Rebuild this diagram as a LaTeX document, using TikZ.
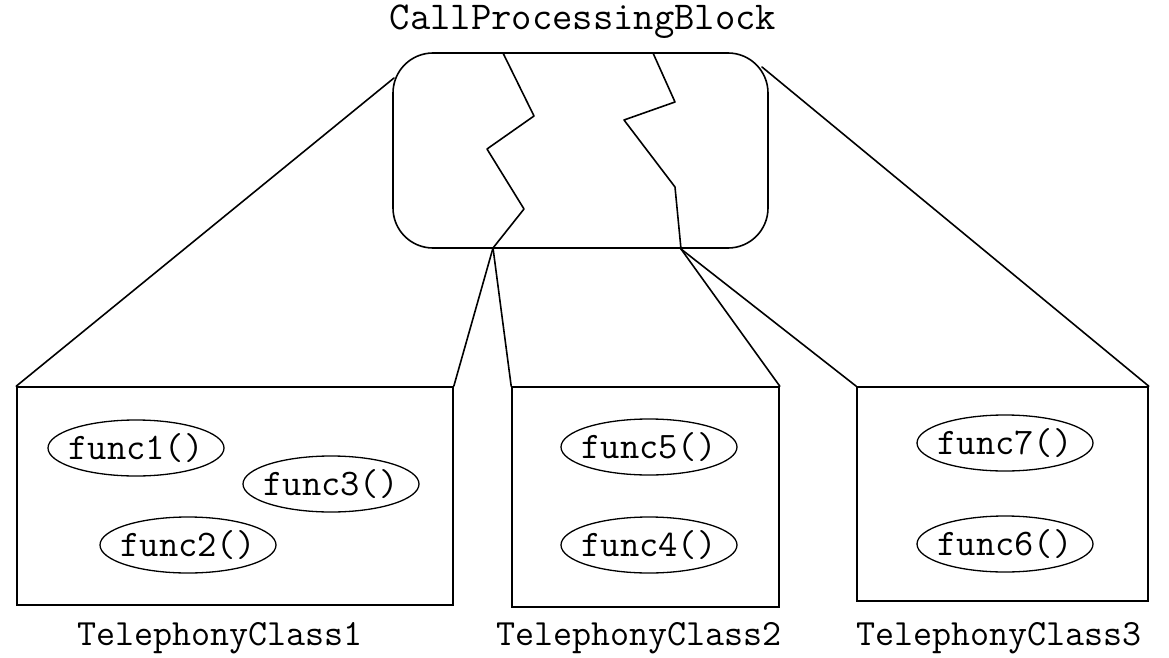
\documentclass[tikz,border=0pt]{standalone}
\usepackage{fontspec}
\usetikzlibrary{shapes.geometric}
\tikzset{
  edge/.style={line width=1.6pt, line join=round, line cap=round},
  block/.style={draw, line width=1.6pt, rounded corners=40pt, inner sep=0pt},
  classbox/.style={draw, line width=1.6pt, inner sep=0pt},
  func/.style={draw, ellipse, line width=1.3pt, inner xsep=-12pt, inner ysep=0pt,
    minimum width=176pt, minimum height=56pt,
    font=\ttfamily\fontsize{37.5}{37.5}\selectfont},
  label/.style={inner sep=0pt, font=\ttfamily\fontsize{37}{37}\selectfont}
}
\begin{document}
\begin{tikzpicture}[x=1pt,y=-1pt]
\useasboundingbox (0,0) rectangle (1169,658);

% title and the rounded block
\node[label, font=\ttfamily\fontsize{39.5}{39.5}\selectfont] (title) at (583,22) {CallProcessingBlock};
\node[block, minimum width=375pt, minimum height=195pt] (cpb) at (580.5,150.5) {};

% cuts through the block
\coordinate (j1) at (493,248);
\coordinate (j2) at (681,249);
\draw[edge] (503,53) -- (534,116) -- (487,149) -- (524,209) -- (j1);
\draw[edge] (653,53) -- (675,102) -- (624,120) -- (675,187) -- (j2);

% the three classes
\node[classbox, minimum width=436pt, minimum height=218pt] (c1) at (235,496) {};
\node[classbox, minimum width=267pt, minimum height=220pt] (c2) at (645.5,497) {};
\node[classbox, minimum width=291pt, minimum height=214pt] (c3) at (1002.5,494) {};

% connectors from the block to the classes
\coordinate (bl) at (394,78);
\coordinate (br) at (762,67);
\draw[edge] (bl) -- (c1.north west);
\draw[edge] (j1) -- (c1.north east);
\draw[edge] (j1) -- (c2.north west);
\draw[edge] (j2) -- (c2.north east);
\draw[edge] (j2) -- (c3.north west);
\draw[edge] (br) -- (c3.north east);

% member functions
\node[func] (f1) at (136,448) {func1()};
\node[func] (f3) at (331,484) {func3()};
\node[func] (f2) at (188,545) {func2()};
\node[func] (f5) at (649,447) {func5()};
\node[func] (f4) at (649,545) {func4()};
\node[func] (f7) at (1005,443) {func7()};
\node[func] (f6) at (1005,544) {func6()};

% class names
\node[label] (t1) at (220,638) {TelephonyClass1};
\node[label] (t2) at (639,638) {TelephonyClass2};
\node[label] (t3) at (999,638) {TelephonyClass3};
\end{tikzpicture}
\end{document}
